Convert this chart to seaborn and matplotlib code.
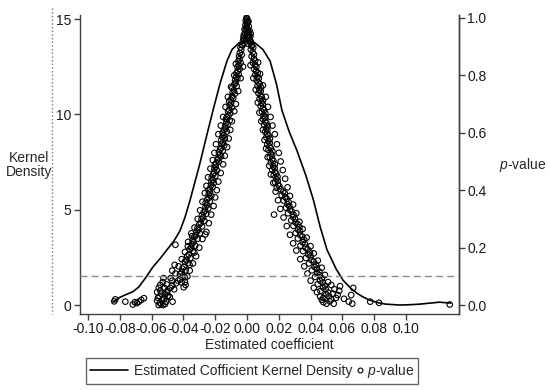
import numpy as np
import pandas as pd
import matplotlib
matplotlib.use("Agg")
import matplotlib.pyplot as plt
from matplotlib.lines import Line2D
from matplotlib.legend_handler import HandlerLine2D
import seaborn as sns

# kernel density of the estimated coefficients
kde_coef = [-0.0843, -0.0800, -0.0760, -0.0717, -0.0680, -0.0640, -0.0591, -0.0545,
            -0.0503, -0.0460, -0.0421, -0.0390, -0.0358, -0.0300, -0.0250, -0.0214,
            -0.0170, -0.0126, -0.0094, -0.0050, 0.0000, 0.0050, 0.0100, 0.0145,
            0.0185, 0.0220, 0.0265, 0.0314, 0.0370, 0.0418, 0.0460, 0.0503,
            0.0560, 0.0604, 0.0650, 0.0690, 0.0730, 0.0770, 0.0820, 0.0870,
            0.0960, 0.1030, 0.1090, 0.1150, 0.1210, 0.1280]
kde_dens = [0.15, 0.40, 0.55, 0.70, 0.95, 1.40, 2.00, 2.45,
            2.90, 3.35, 3.90, 4.60, 5.50, 7.30, 9.00, 10.20,
            11.60, 12.80, 13.40, 13.75, 13.85, 13.75, 13.40, 12.80,
            11.60, 10.20, 9.10, 8.10, 6.80, 5.50, 4.10, 2.90,
            1.90, 1.30, 0.90, 0.63, 0.42, 0.26, 0.13, 0.05,
            0.00, 0.02, 0.05, 0.10, 0.15, 0.10]

# p-values of the estimates
peak_pts = [(-0.0004, 0.995), (0.0002, 0.990), (0.0006, 0.985), (-0.0010, 0.975),
            (0.0011, 0.970), (-0.0015, 0.960), (0.0016, 0.955), (-0.0006, 0.965),
            (0.0008, 0.950), (-0.0020, 0.940), (0.0021, 0.935), (-0.0012, 0.945),
            (0.0013, 0.930), (-0.0025, 0.920), (0.0026, 0.915), (0.0000, 0.980),
            (-0.0003, 1.000), (0.0004, 0.960), (-0.0018, 0.925), (0.0019, 0.922),
            (0.0000, 0.998), (-0.0008, 0.990), (0.0009, 0.988), (-0.0002, 0.970),
            (0.0003, 0.950), (-0.0010, 0.955), (0.0010, 0.940), (-0.0005, 0.925),
            (0.0006, 0.910), (-0.0028, 0.905), (0.0029, 0.902), (-0.0016, 0.912),
            (0.0015, 0.918), (-0.0022, 0.932), (0.0023, 0.945), (-0.0001, 0.938)]

left_pts = [(-0.0030, 0.905), (-0.0041, 0.897), (-0.0036, 0.889),
            (-0.0045, 0.878), (-0.0033, 0.871), (-0.0050, 0.866),
            (-0.0047, 0.856), (-0.0054, 0.849), (-0.0040, 0.843),
            (-0.0052, 0.835), (-0.0060, 0.829), (-0.0046, 0.822),
            (-0.0058, 0.815), (-0.0066, 0.808), (-0.0052, 0.803),
            (-0.0068, 0.795), (-0.0061, 0.788), (-0.0075, 0.782),
            (-0.0072, 0.774), (-0.0080, 0.768), (-0.0065, 0.762), (-0.0092, 0.757),
            (-0.0083, 0.748), (-0.0090, 0.741), (-0.0076, 0.736),
            (-0.0094, 0.727), (-0.0087, 0.721), (-0.0103, 0.715), (-0.0112, 0.709),
            (-0.0101, 0.702), (-0.0109, 0.695), (-0.0095, 0.688),
            (-0.0112, 0.680), (-0.0119, 0.674), (-0.0105, 0.668),
            (-0.0117, 0.660), (-0.0126, 0.654), (-0.0132, 0.648), (-0.0109, 0.643),
            (-0.0129, 0.636), (-0.0121, 0.629), (-0.0137, 0.623),
            (-0.0135, 0.615), (-0.0145, 0.610), (-0.0127, 0.604), (-0.0153, 0.600),
            (-0.0146, 0.592), (-0.0155, 0.586), (-0.0139, 0.580), (-0.0162, 0.574),
            (-0.0151, 0.567), (-0.0159, 0.561), (-0.0143, 0.556),
            (-0.0161, 0.548), (-0.0169, 0.542), (-0.0153, 0.537), (-0.0177, 0.532),
            (-0.0171, 0.524), (-0.0163, 0.518), (-0.0180, 0.512),
            (-0.0186, 0.505), (-0.0177, 0.499), (-0.0194, 0.494), (-0.0202, 0.489),
            (-0.0196, 0.481), (-0.0205, 0.475), (-0.0189, 0.469),
            (-0.0206, 0.461), (-0.0213, 0.455), (-0.0199, 0.450), (-0.0222, 0.444),
            (-0.0216, 0.436), (-0.0224, 0.430), (-0.0209, 0.425),
            (-0.0226, 0.417), (-0.0216, 0.411), (-0.0234, 0.405), (-0.0242, 0.400),
            (-0.0233, 0.392), (-0.0241, 0.386), (-0.0225, 0.380),
            (-0.0241, 0.373), (-0.0251, 0.367), (-0.0234, 0.361), (-0.0260, 0.356),
            (-0.0251, 0.348), (-0.0261, 0.342), (-0.0244, 0.336),
            (-0.0263, 0.329), (-0.0273, 0.323), (-0.0256, 0.318), (-0.0284, 0.312),
            (-0.0276, 0.305), (-0.0286, 0.299), (-0.0268, 0.293),
            (-0.0291, 0.286), (-0.0301, 0.280), (-0.0283, 0.274), (-0.0311, 0.269),
            (-0.0306, 0.262), (-0.0316, 0.256), (-0.0297, 0.250), (-0.0262, 0.246),
            (-0.0321, 0.243), (-0.0331, 0.237), (-0.0311, 0.231), (-0.0342, 0.226),
            (-0.0345, 0.240), (-0.0336, 0.219), (-0.0346, 0.213), (-0.0326, 0.207),
            (-0.0351, 0.200), (-0.0361, 0.194), (-0.0341, 0.188), (-0.0331, 0.183),
            (-0.0372, 0.205), (-0.0366, 0.176), (-0.0376, 0.170), (-0.0356, 0.164),
            (-0.0381, 0.157), (-0.0391, 0.151), (-0.0371, 0.146), (-0.0361, 0.140),
            (-0.0396, 0.133), (-0.0406, 0.127), (-0.0386, 0.121), (-0.0450, 0.210),
            (-0.0411, 0.114), (-0.0421, 0.108), (-0.0401, 0.103), (-0.0391, 0.097),
            (-0.0421, 0.090), (-0.0433, 0.085), (-0.0411, 0.079), (-0.0445, 0.076),
            (-0.0386, 0.070), (-0.0398, 0.062), (-0.0470, 0.068), (-0.0482, 0.060),
            (-0.0458, 0.055), (-0.0500, 0.050), (-0.0525, 0.094), (-0.0480, 0.094),
            (-0.0470, 0.120), (-0.0455, 0.140), (-0.0505, 0.044), (-0.0515, 0.038),
            (-0.0495, 0.033), (-0.0485, 0.028), (-0.0540, 0.040), (-0.0522, 0.022),
            (-0.0535, 0.017), (-0.0510, 0.012), (-0.0548, 0.008), (-0.0560, 0.025),
            (-0.0540, 0.003), (-0.0528, 0.000), (-0.0565, 0.045), (-0.0555, 0.060),
            (-0.0468, 0.012)]

left_spread = [(-0.0070, 0.840), (-0.0025, 0.830), (-0.0080, 0.800), (-0.0040, 0.790),
               (-0.0100, 0.760), (-0.0055, 0.745), (-0.0120, 0.725), (-0.0070, 0.700),
               (-0.0135, 0.690), (-0.0080, 0.675), (-0.0150, 0.655), (-0.0095, 0.640),
               (-0.0165, 0.625), (-0.0105, 0.610), (-0.0180, 0.595), (-0.0115, 0.580),
               (-0.0195, 0.560), (-0.0125, 0.550), (-0.0205, 0.530), (-0.0140, 0.520),
               (-0.0215, 0.505), (-0.0150, 0.490), (-0.0230, 0.475), (-0.0165, 0.460),
               (-0.0245, 0.445), (-0.0180, 0.430), (-0.0255, 0.415), (-0.0190, 0.400),
               (-0.0265, 0.390), (-0.0200, 0.375), (-0.0280, 0.360), (-0.0210, 0.345),
               (-0.0295, 0.330), (-0.0225, 0.315), (-0.0310, 0.300), (-0.0240, 0.285),
               (-0.0330, 0.270), (-0.0255, 0.255), (-0.0350, 0.250), (-0.0280, 0.230),
               (-0.0370, 0.220), (-0.0300, 0.200), (-0.0390, 0.185), (-0.0320, 0.170),
               (-0.0410, 0.160), (-0.0340, 0.145), (-0.0430, 0.135), (-0.0360, 0.120),
               (-0.0450, 0.110), (-0.0375, 0.100), (-0.0470, 0.085), (-0.0390, 0.080),
               (-0.0505, 0.072), (-0.0520, 0.060), (-0.0545, 0.050), (-0.0500, 0.030),
               (-0.0550, 0.030), (-0.0565, 0.015), (-0.0515, 0.004), (-0.0555, 0.000),
               (-0.0530, 0.080), (-0.0545, 0.070)]

left_tail = [(-0.0835, 0.013), (-0.0828, 0.020), (-0.0765, 0.012), (-0.0718, 0.002),
             (-0.0705, 0.010), (-0.0692, 0.007), (-0.0680, 0.012), (-0.0665, 0.018),
             (-0.0648, 0.024)]

right_pts = [(0.0030, 0.905), (0.0039, 0.897), (0.0024, 0.890),
             (0.0036, 0.880), (0.0044, 0.873), (0.0029, 0.866),
             (0.0043, 0.858), (0.0051, 0.851), (0.0037, 0.844),
             (0.0051, 0.836), (0.0059, 0.829), (0.0045, 0.822),
             (0.0058, 0.815), (0.0067, 0.808), (0.0052, 0.802),
             (0.0066, 0.795), (0.0074, 0.789), (0.0060, 0.782),
             (0.0072, 0.775), (0.0080, 0.769), (0.0066, 0.763), (0.0088, 0.758),
             (0.0078, 0.750), (0.0086, 0.744), (0.0072, 0.738),
             (0.0085, 0.730), (0.0093, 0.724), (0.0079, 0.718), (0.0100, 0.713),
             (0.0092, 0.705), (0.0100, 0.699), (0.0086, 0.693),
             (0.0100, 0.685), (0.0108, 0.679), (0.0094, 0.673), (0.0115, 0.668),
             (0.0106, 0.660), (0.0114, 0.654), (0.0100, 0.648),
             (0.0114, 0.640), (0.0122, 0.634), (0.0108, 0.628), (0.0130, 0.623),
             (0.0120, 0.615), (0.0128, 0.609), (0.0114, 0.603),
             (0.0128, 0.596), (0.0136, 0.590), (0.0122, 0.584), (0.0144, 0.579),
             (0.0135, 0.571), (0.0143, 0.565), (0.0128, 0.559),
             (0.0142, 0.552), (0.0150, 0.546), (0.0135, 0.540), (0.0160, 0.535),
             (0.0150, 0.527), (0.0158, 0.521), (0.0143, 0.515),
             (0.0158, 0.508), (0.0166, 0.502), (0.0150, 0.496), (0.0175, 0.491),
             (0.0166, 0.483), (0.0174, 0.477), (0.0158, 0.471),
             (0.0176, 0.464), (0.0184, 0.458), (0.0168, 0.452), (0.0192, 0.447),
             (0.0185, 0.439), (0.0193, 0.433), (0.0177, 0.427),
             (0.0195, 0.420), (0.0203, 0.414), (0.0187, 0.408), (0.0212, 0.403),
             (0.0228, 0.395), (0.0238, 0.389), (0.0218, 0.383),
             (0.0240, 0.376), (0.0250, 0.370), (0.0230, 0.364), (0.0262, 0.359),
             (0.0255, 0.351), (0.0266, 0.345), (0.0245, 0.339),
             (0.0270, 0.332), (0.0282, 0.326), (0.0258, 0.320), (0.0292, 0.315),
             (0.0290, 0.307), (0.0302, 0.301), (0.0278, 0.295),
             (0.0305, 0.288), (0.0318, 0.282), (0.0292, 0.276), (0.0330, 0.271),
             (0.0320, 0.263), (0.0333, 0.257), (0.0306, 0.251),
             (0.0335, 0.244), (0.0348, 0.238), (0.0320, 0.232), (0.0360, 0.227),
             (0.0350, 0.219), (0.0364, 0.213), (0.0336, 0.207),
             (0.0368, 0.200), (0.0382, 0.194), (0.0352, 0.188), (0.0396, 0.183),
             (0.0386, 0.176), (0.0400, 0.170), (0.0370, 0.164),
             (0.0405, 0.157), (0.0420, 0.151), (0.0390, 0.145), (0.0435, 0.140),
             (0.0425, 0.133), (0.0440, 0.127), (0.0408, 0.121), (0.0455, 0.116),
             (0.0442, 0.110), (0.0458, 0.104), (0.0428, 0.098), (0.0472, 0.093),
             (0.0460, 0.085), (0.0476, 0.079), (0.0445, 0.073), (0.0490, 0.068),
             (0.0478, 0.061), (0.0495, 0.055), (0.0462, 0.049), (0.0510, 0.044),
             (0.0580, 0.050), (0.0585, 0.066), (0.0498, 0.037), (0.0515, 0.031),
             (0.0480, 0.025), (0.0530, 0.020), (0.0570, 0.035), (0.0520, 0.013),
             (0.0480, 0.010), (0.0545, 0.005), (0.0170, 0.315)]

right_spread = [(0.0070, 0.845), (0.0022, 0.835), (0.0082, 0.805), (0.0040, 0.790),
                (0.0100, 0.765), (0.0055, 0.750), (0.0118, 0.725), (0.0068, 0.705),
                (0.0132, 0.690), (0.0078, 0.670), (0.0148, 0.655), (0.0090, 0.640),
                (0.0160, 0.625), (0.0100, 0.610), (0.0175, 0.595), (0.0110, 0.575),
                (0.0188, 0.560), (0.0120, 0.545), (0.0200, 0.530), (0.0130, 0.515),
                (0.0212, 0.500), (0.0140, 0.485), (0.0225, 0.470), (0.0150, 0.455),
                (0.0240, 0.440), (0.0165, 0.425), (0.0255, 0.410), (0.0180, 0.395),
                (0.0270, 0.380), (0.0195, 0.365), (0.0290, 0.350), (0.0210, 0.335),
                (0.0310, 0.320), (0.0230, 0.305), (0.0330, 0.290), (0.0250, 0.275),
                (0.0350, 0.265), (0.0270, 0.245), (0.0375, 0.235), (0.0290, 0.215),
                (0.0400, 0.205), (0.0310, 0.190), (0.0420, 0.180), (0.0335, 0.160),
                (0.0445, 0.155), (0.0360, 0.135), (0.0470, 0.130), (0.0380, 0.110),
                (0.0490, 0.105), (0.0400, 0.085), (0.0510, 0.080), (0.0420, 0.060),
                (0.0530, 0.070), (0.0440, 0.045), (0.0550, 0.055), (0.0460, 0.030),
                (0.0560, 0.025), (0.0500, 0.005), (0.0540, 0.040), (0.0470, 0.018)]

right_tail = [(0.0610, 0.022), (0.0640, 0.012), (0.0655, 0.035), (0.0668, 0.060),
              (0.0662, 0.005), (0.0775, 0.012), (0.0830, 0.008), (0.1275, 0.002)]

x_ticks = [-0.10, -0.08, -0.06, -0.04, -0.02, 0.00, 0.02, 0.04, 0.06, 0.08, 0.10]
dens_ticks = [0, 5, 10, 15]
p_ticks = [0.0, 0.2, 0.4, 0.6, 0.8, 1.0]
p_cut = 0.1

kde = pd.DataFrame({"coef": kde_coef, "density": kde_dens})
pv = pd.DataFrame(peak_pts + left_pts + left_spread + left_tail
                  + right_pts + right_spread + right_tail,
                  columns=["coef", "pvalue"])

sns.set_style("ticks")
plt.rcParams["font.family"] = ["Liberation Sans", "DejaVu Sans"]
plt.rcParams["mathtext.fontset"] = "custom"
plt.rcParams["mathtext.it"] = "Liberation Sans:italic"
plt.rcParams["mathtext.rm"] = "Liberation Sans"

fig = plt.figure(figsize=(5.5, 3.9), dpi=100)
ax = fig.add_axes([80/550, 1-314/390, 379/550, 299/390])
ax2 = ax.twinx()

sns.lineplot(data=kde, x="coef", y="density", color="black", lw=1.2,
             estimator=None, ax=ax)
sns.scatterplot(data=pv, x="coef", y="pvalue", marker="o", s=16,
                facecolor="none", edgecolor="black", linewidth=0.8, ax=ax2)
ax2.axhline(p_cut, color="#8a8a8a", lw=1, ls=(0, (5, 3)))

ax.set_xlim(-0.105, 0.1333)
ax.set_ylim(-0.47, 15.21)
ax2.set_ylim(-0.031, 1.01)

ax.set_xticks(x_ticks)
ax.set_xticklabels([f"{t:.2f}" for t in x_ticks])
ax.set_yticks(dens_ticks)
ax2.set_yticks(p_ticks)
ax2.set_yticklabels([f"{t:.1f}" for t in p_ticks])

for a in (ax, ax2):
    a.spines["top"].set_visible(False)
    for s in a.spines.values():
        s.set_color("#404040")
        s.set_linewidth(1)
    a.tick_params(labelsize=10, length=4, width=1, color="#404040",
                  labelcolor="#1a1a1a", pad=2)
ax2.spines["left"].set_visible(False)
ax2.spines["bottom"].set_visible(False)

ax.set_xlabel("Estimated coefficient", fontsize=10, labelpad=1)
ax.set_ylabel("")
ax2.set_ylabel("")
fig.text(29/550, 1-165/390, "Kernel\nDensity", ha="center", va="center",
         fontsize=10, linespacing=0.95)
fig.text(523/550, 1-165/390, "$p$-value", ha="center", va="center", fontsize=10)

# dotted outer border line on the left
fig.add_artist(Line2D([52/550, 52/550], [1-8/390, 1-314/390],
                      transform=fig.transFigure, ls=":", color="#777777", lw=1))


class RightMarker(HandlerLine2D):
    # put the single marker at the right end of the handle box
    def get_xdata(self, legend, xdescent, ydescent, width, height, fontsize):
        xm = -xdescent + width - 0.05 * fontsize
        return [xm - 1, xm + 1], [xm]


h_line = Line2D([], [], color="black", lw=1.2)
h_pt = Line2D([], [], ls="none", marker="o", ms=3.5, mfc="none",
              mec="black", mew=0.8)
leg = fig.legend([h_line, h_pt], ["Estimated Cofficient Kernel Density", "$p$-value"],
                 loc="center", bbox_to_anchor=(252/550, 1-371/390), ncol=2,
                 fontsize=10, frameon=True, fancybox=False, edgecolor="#404040",
                 handlelength=2.75, handletextpad=0.45, columnspacing=-2.2,
                 borderpad=0.3, handler_map={h_pt: RightMarker()})
leg.get_frame().set_linewidth(1)

fig.savefig("out.png", dpi=100)
